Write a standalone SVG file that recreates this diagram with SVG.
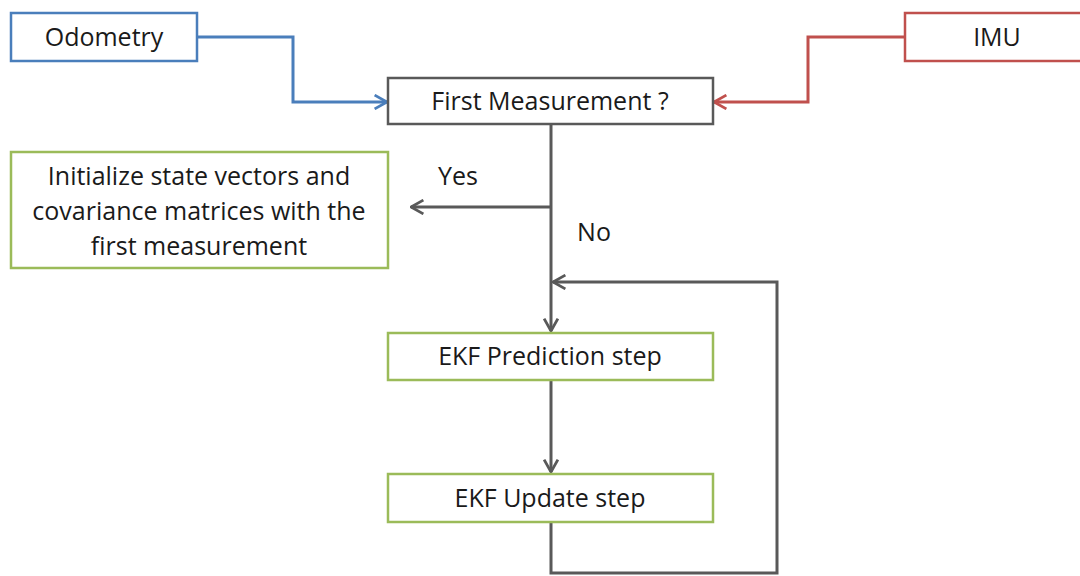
<svg xmlns="http://www.w3.org/2000/svg" width="1080" height="576" viewBox="0 0 1080 576">
<style>
.box{fill:#fff;stroke-width:2.5}
.blue{stroke:#4a7ebb}
.red{stroke:#c0504d}
.gray{stroke:#595959}
.green{stroke:#9bbb59}
.t{font-family:"Open Sans","Liberation Sans",sans-serif;font-size:25px;fill:#1a1a1a;text-anchor:middle}
.c{fill:none;stroke-width:3}
</style>
<defs>
<marker id="ab" viewBox="0 0 12 12" refX="11" refY="6" markerWidth="5.5" markerHeight="5.5" orient="auto" markerUnits="strokeWidth">
<path d="M2,1 L11,6 L2,11" fill="none" stroke="#4a7ebb" stroke-width="2"/>
</marker>
<marker id="ar" viewBox="0 0 12 12" refX="11" refY="6" markerWidth="5.5" markerHeight="5.5" orient="auto" markerUnits="strokeWidth">
<path d="M2,1 L11,6 L2,11" fill="none" stroke="#c0504d" stroke-width="2"/>
</marker>
<marker id="ag" viewBox="0 0 12 12" refX="11" refY="6" markerWidth="5.5" markerHeight="5.5" orient="auto" markerUnits="strokeWidth">
<path d="M2,1 L11,6 L2,11" fill="none" stroke="#595959" stroke-width="2"/>
</marker>
</defs>
<g id="connectors">
<path class="c blue" d="M197,37 H293 V102 H387" marker-end="url(#ab)"/>
<path class="c red" d="M905,37 H808 V102 H714" marker-end="url(#ar)"/>
<path class="c gray" d="M551,125 V331" marker-end="url(#ag)"/>
<path class="c gray" d="M551,207 H411" marker-end="url(#ag)"/>
<path class="c gray" d="M551,381 V472" marker-end="url(#ag)"/>
<path class="c gray" d="M551,523 V573 H777 V282 H553" marker-end="url(#ag)"/>
</g>
<g id="odometry">
<rect class="box blue" x="11" y="13" width="186" height="48"/>
<text class="t" x="104" y="46">Odometry</text>
</g>
<g id="imu">
<rect class="box red" x="905" y="13" width="185" height="48"/>
<text class="t" x="997" y="46">IMU</text>
</g>
<g id="first">
<rect class="box gray" x="388" y="78" width="325" height="46"/>
<text class="t" x="550" y="110">First Measurement ?</text>
</g>
<g id="init">
<rect class="box green" x="11" y="152" width="377" height="116"/>
<text class="t" x="199" y="185">Initialize state vectors and</text>
<text class="t" x="199" y="220">covariance matrices with the</text>
<text class="t" x="199" y="255">first measurement</text>
</g>
<g id="yes"><text class="t" x="458" y="185">Yes</text></g>
<g id="no"><text class="t" x="594" y="241">No</text></g>
<g id="prediction">
<rect class="box green" x="388" y="333" width="325" height="47"/>
<text class="t" x="550" y="365">EKF Prediction step</text>
</g>
<g id="update">
<rect class="box green" x="388" y="474" width="325" height="48"/>
<text class="t" x="550" y="507">EKF Update step</text>
</g>
</svg>
